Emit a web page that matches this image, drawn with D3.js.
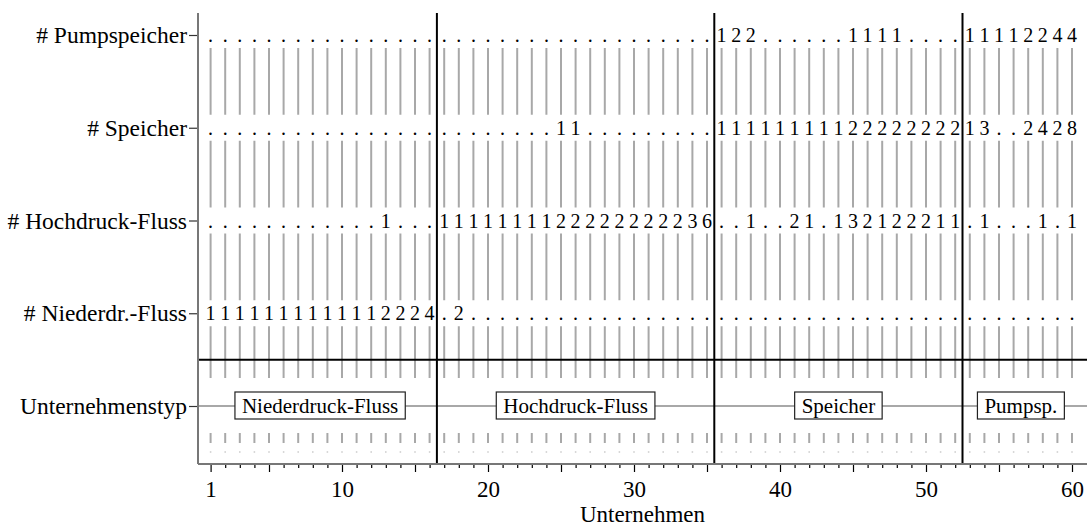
<!DOCTYPE html>
<html><head><meta charset="utf-8">
<script src="https://cdn.jsdelivr.net/npm/d3@7"></script>
<style>
body{margin:0;background:#fff}
svg{display:block}
text{font-family:"Liberation Serif","Times New Roman",serif;fill:#000}
</style>
</head><body>
<svg id="c" width="1091" height="529"></svg>
<script>
// ---------- data ----------
const rowLabels = ["# Pumpspeicher", "# Speicher", "# Hochdruck-Fluss", "# Niederdr.-Fluss", "Unternehmenstyp"];
const companies = d3.range(1, 61);
const pumpspeicher = [0,0,0,0,0,0,0,0,0,0,0,0,0,0,0,0,
  0,0,0,0,0,0,0,0,0,0,0,0,0,0,0,0,0,0,0,
  1,2,2,0,0,0,0,0,0,1,1,1,1,0,0,0,0,
  1,1,1,1,2,2,4,4];
const speicher = [0,0,0,0,0,0,0,0,0,0,0,0,0,0,0,0,
  0,0,0,0,0,0,0,0,1,1,0,0,0,0,0,0,0,0,0,
  1,1,1,1,1,1,1,1,1,2,2,2,2,2,2,2,2,
  1,3,0,0,2,4,2,8];
const hochdruck = [0,0,0,0,0,0,0,0,0,0,0,0,1,0,0,0,
  1,1,1,1,1,1,1,1,2,2,2,2,2,2,2,2,2,3,6,
  0,0,1,0,0,2,1,0,1,3,2,1,2,2,2,1,1,
  0,1,0,0,0,1,0,1];
const niederdruck = [1,1,1,1,1,1,1,1,1,1,1,1,2,2,2,4,
  0,2,0,0,0,0,0,0,0,0,0,0,0,0,0,0,0,0,0,
  0,0,0,0,0,0,0,0,0,0,0,0,0,0,0,0,0,
  0,0,0,0,0,0,0,0];
const series = [pumpspeicher, speicher, hochdruck, niederdruck];
const typeLabels = ["Niederdruck-Fluss", "Hochdruck-Fluss", "Speicher", "Pumpsp."];
const typeFirst = [1, 17, 36, 53];
const typeLast = [16, 35, 52, 60];
const xTickLabels = [1, 10, 20, 30, 40, 50, 60];
const xMajorTicks = [1, 5, 10, 15, 20, 25, 30, 35, 40, 45, 50, 55, 60];
const xTitle = "Unternehmen";

// ---------- layout ----------
const svg = d3.select("#c");
const L = 198, R = 1087, T = 13, B = 464;
const x = d3.scaleLinear().domain([1, 60]).range([210.6, 1072]);
const y = d3.scalePoint().domain(rowLabels).range([35, 406]);
const FS_COUNT = 20, FS_AXIS = 23.5, FS_BOX = 21, FS_TICK = 23;

// gray vertical grid segments
const gridG = svg.append("g");
const segs = [];
for (let i = 0; i < 3; i++) segs.push([y(rowLabels[i]) + 13, y(rowLabels[i + 1]) - 13]);
segs.push([y(rowLabels[3]) + 13, y(rowLabels[4]) - 28]);
segs.push([y(rowLabels[4]) + 27, y(rowLabels[4]) + 37]);
companies.forEach(c => {
  segs.forEach(s => {
    gridG.append("line").attr("x1", x(c)).attr("x2", x(c)).attr("y1", s[0]).attr("y2", s[1])
      .attr("stroke", "#a8a8a8").attr("stroke-width", 2);
  });
  gridG.append("line").attr("x1", x(c)).attr("x2", x(c))
    .attr("y1", y(rowLabels[4]) + 45).attr("y2", y(rowLabels[4]) + 47)
    .attr("stroke", "#d8d8d8").attr("stroke-width", 1.5);
});

// type row: gray line
const ty = y(rowLabels[4]);
svg.append("line").attr("x1", L).attr("x2", R).attr("y1", ty).attr("y2", ty)
  .attr("stroke", "#a8a8a8").attr("stroke-width", 2);

// horizontal black separator between count rows and type row
const sepY = (y(rowLabels[3]) + y(rowLabels[4])) / 2;
svg.append("line").attr("x1", L).attr("x2", R).attr("y1", sepY).attr("y2", sepY)
  .attr("stroke", "#000").attr("stroke-width", 2);

// vertical black dividers between types
for (let i = 0; i < typeFirst.length - 1; i++) {
  const dx = x((typeLast[i] + typeFirst[i + 1]) / 2);
  svg.append("line").attr("x1", dx).attr("x2", dx).attr("y1", T).attr("y2", B)
    .attr("stroke", "#000").attr("stroke-width", 2);
}

// count text
series.forEach((vals, i) => {
  svg.append("g").selectAll("text").data(vals).join("text")
    .attr("x", (d, j) => x(companies[j]))
    .attr("y", y(rowLabels[i]))
    .attr("dy", "0.35em")
    .attr("text-anchor", "middle")
    .style("font-size", FS_COUNT + "px")
    .text(d => d === 0 ? "." : d);
});

// type boxes
typeLabels.forEach((lab, i) => {
  const cx = x(d3.mean(companies.filter(c => c >= typeFirst[i] && c <= typeLast[i])));
  const g = svg.append("g");
  const rect = g.append("rect").attr("fill", "#fff").attr("stroke", "#222").attr("stroke-width", 1.2);
  const t = g.append("text").attr("x", cx).attr("y", ty).attr("dy", "0.35em")
    .attr("text-anchor", "middle").style("font-size", FS_BOX + "px").text(lab);
  const bb = t.node().getBBox();
  rect.attr("x", cx - bb.width / 2 - 7).attr("width", bb.width + 14)
    .attr("y", ty - 14).attr("height", 27);
});

// left axis
const yAxis = svg.append("g").attr("transform", `translate(${L},0)`)
  .call(d3.axisLeft(y).tickSize(9).tickPadding(2));
yAxis.select(".domain").remove();
yAxis.selectAll(".tick line").attr("stroke", "#333").attr("stroke-width", 1.2);
yAxis.selectAll("text").style("font-size", FS_AXIS + "px").attr("font-family", null);
svg.append("line").attr("x1", L).attr("x2", L).attr("y1", T).attr("y2", B)
  .attr("stroke", "#777").attr("stroke-width", 2);

// bottom axis
const xAxis = svg.append("g").attr("transform", `translate(0,${B})`)
  .call(d3.axisBottom(x).tickValues(companies).tickSize(4)
    .tickFormat(d => xTickLabels.includes(d) ? d : ""));
xAxis.select(".domain").remove();
xAxis.selectAll(".tick line").attr("stroke", "#000").attr("stroke-width", 1.2)
  .attr("y2", d => xMajorTicks.includes(d) ? 8 : 4);
xAxis.selectAll("text").style("font-size", FS_TICK + "px").attr("font-family", null)
  .attr("y", 17);
svg.append("line").attr("x1", L).attr("x2", R).attr("y1", B).attr("y2", B)
  .attr("stroke", "#777").attr("stroke-width", 2);

svg.append("text").attr("x", (L + R) / 2).attr("y", 522).attr("text-anchor", "middle")
  .style("font-size", FS_TICK + "px").text(xTitle);
</script>
</body></html>
